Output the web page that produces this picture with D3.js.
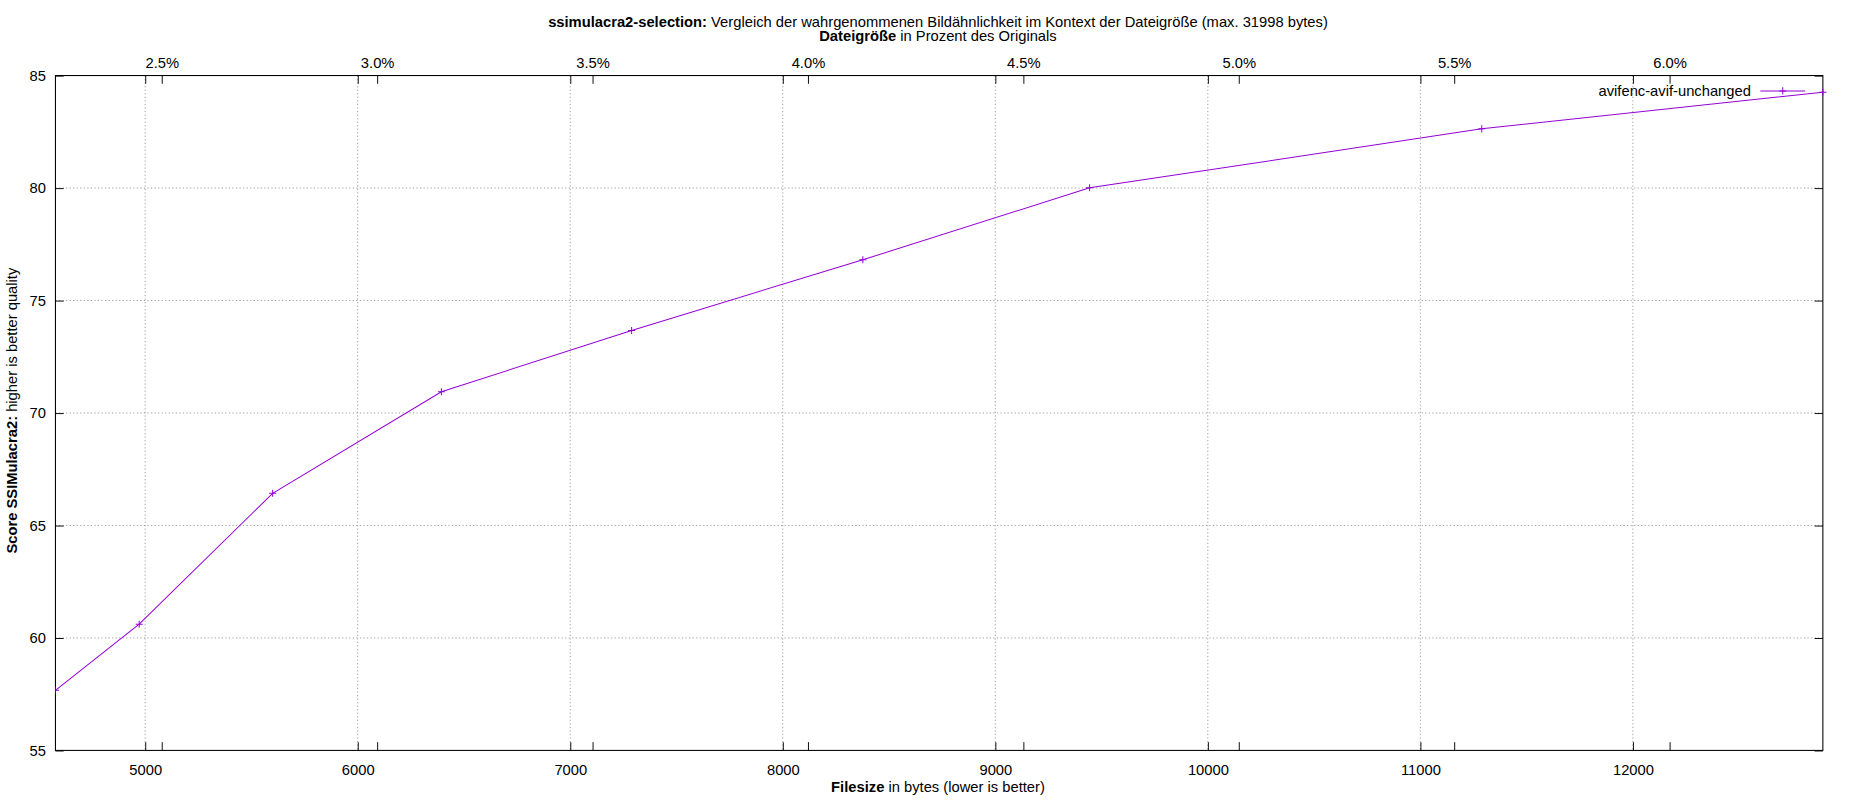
<!DOCTYPE html><html><head><meta charset="utf-8"><script src="https://cdn.jsdelivr.net/npm/d3@7"></script>
<style>body{margin:0;background:#fff}text{font-family:"Liberation Sans",Arial,sans-serif}</style></head><body>
<svg id="c" width="1850" height="800" viewBox="0 0 1568 678" style="display:block"></svg>
<script>
const sizes=[4578,4972,5600,6394,7289,8377,9444,11289,12894];
const scores=[57.67,60.61,66.43,70.94,73.67,76.81,80.01,82.63,84.26];
const xTicks=[5000,6000,7000,8000,9000,10000,11000,12000];
const yTicks=[55,60,65,70,75,80,85];
const pctTicks=[2.5,3.0,3.5,4.0,4.5,5.0,5.5,6.0];
const seriesName="avifenc-avif-unchanged";
const L=47,R=1545,T=64,B=636;
const svg=d3.select("#c");
const x=d3.scaleLinear().domain([4578,12894]).range([L,R]);
const xp=d3.scaleLinear().domain([2.2535,6.356]).range([L,R]);
const y=d3.scaleLinear().domain([55,85]).range([B,T]);
const g=svg.append("g");
const dash="1,2";
xTicks.forEach(t=>g.append("line").attr("x1",x(t)).attr("x2",x(t)).attr("y1",T).attr("y2",B).attr("stroke","#888").attr("stroke-width",0.7).attr("stroke-dasharray",dash));
yTicks.slice(1,-1).forEach(t=>g.append("line").attr("x1",L).attr("x2",R).attr("y1",y(t)).attr("y2",y(t)).attr("stroke","#888").attr("stroke-width",0.7).attr("stroke-dasharray",dash));
const fmt=d=>d;
svg.append("g").attr("transform",`translate(0,${B})`).call(d3.axisBottom(x).tickValues(xTicks).tickSize(-7).tickPadding(12).tickFormat(fmt));
svg.append("g").attr("transform",`translate(0,${T})`).call(d3.axisBottom(x).tickValues(xTicks).tickSize(7).tickFormat(""));
svg.append("g").attr("transform",`translate(0,${T})`).call(d3.axisTop(xp).tickValues(pctTicks).tickSize(-7).tickPadding(6).tickFormat(d=>d.toFixed(1)+"%"));
svg.append("g").attr("transform",`translate(0,${B})`).call(d3.axisTop(xp).tickValues(pctTicks).tickSize(7).tickFormat(""));
svg.append("g").attr("transform",`translate(${L},0)`).call(d3.axisLeft(y).tickValues(yTicks).tickSize(-7).tickPadding(8));
svg.append("g").attr("transform",`translate(${R},0)`).call(d3.axisRight(y).tickValues(yTicks).tickSize(-7).tickFormat(""));
svg.selectAll(".domain").remove();
svg.selectAll(".tick text").attr("font-size",12.5).attr("fill","#000").style("font-family","Liberation Sans, Arial");
svg.selectAll(".tick line").attr("stroke","#000").attr("stroke-width",0.8);
svg.append("rect").attr("x",L).attr("y",T).attr("width",R-L).attr("height",B-T).attr("fill","none").attr("stroke","#000").attr("stroke-width",0.9);
const pts=sizes.map((s,i)=>[s,scores[i]]);
svg.append("defs").append("clipPath").attr("id","cl").append("rect").attr("x",L).attr("y",T).attr("width",R-L+4).attr("height",B-T);
const col="#9400d3";
const pg=svg.append("g").attr("clip-path","url(#cl)");
pg.append("path").attr("d",d3.line().x(d=>x(d[0])).y(d=>y(d[1]))(pts)).attr("fill","none").attr("stroke",col).attr("stroke-width",0.85);
pts.forEach(d=>{const px=x(d[0]),py=y(d[1]);pg.append("path").attr("d",`M${px-3},${py}H${px+3}M${px},${py-3}V${py+3}`).attr("stroke",col).attr("stroke-width",0.85);});
svg.append("text").attr("x",1484).attr("y",81).attr("text-anchor","end").attr("font-size",12.5).text(seriesName);
svg.append("line").attr("x1",1492).attr("x2",1530).attr("y1",77).attr("y2",77).attr("stroke",col).attr("stroke-width",0.85);
svg.append("path").attr("d","M1508,77H1514M1511,74V80").attr("stroke",col).attr("stroke-width",0.85);
const t1=svg.append("text").attr("x",795).attr("y",23).attr("text-anchor","middle").attr("font-size",12.5);
t1.append("tspan").attr("font-weight","bold").text("ssimulacra2-selection:");
t1.append("tspan").text(" Vergleich der wahrgenommenen Bildähnlichkeit im Kontext der Dateigröße (max. 31998 bytes)");
const t2=svg.append("text").attr("x",795).attr("y",35).attr("text-anchor","middle").attr("font-size",12.5);
t2.append("tspan").attr("font-weight","bold").text("Dateigröße");t2.append("tspan").text(" in Prozent des Originals");
const t3=svg.append("text").attr("x",795).attr("y",671).attr("text-anchor","middle").attr("font-size",12.5);
t3.append("tspan").attr("font-weight","bold").text("Filesize");t3.append("tspan").text(" in bytes (lower is better)");
const t4=svg.append("text").attr("transform","translate(14,348) rotate(-90)").attr("text-anchor","middle").attr("font-size",12.5);
t4.append("tspan").attr("font-weight","bold").text("Score SSIMulacra2:");t4.append("tspan").text(" higher is better quality");
</script></body></html>
